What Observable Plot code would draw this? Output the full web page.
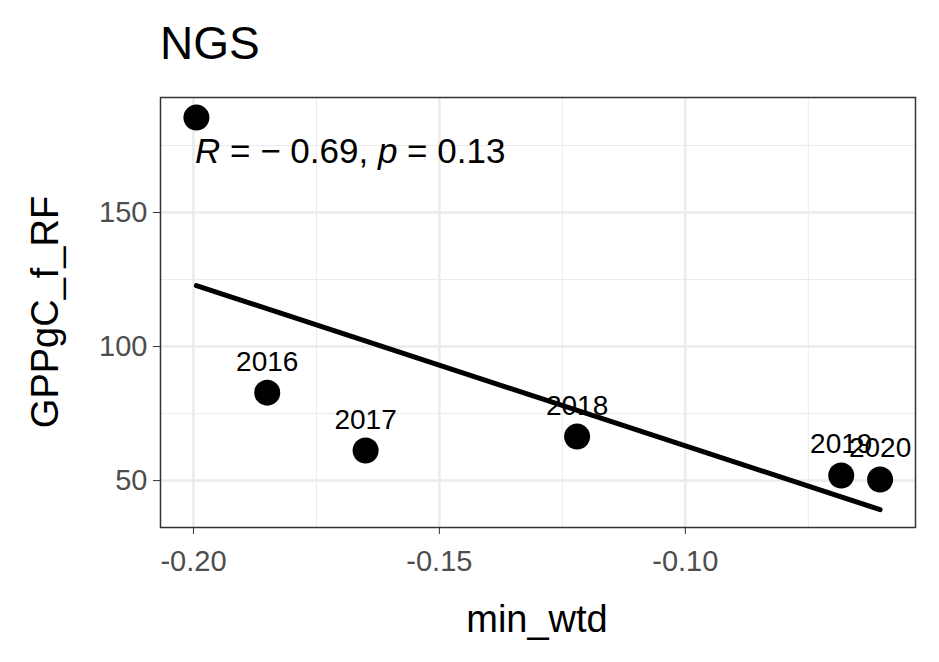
<!DOCTYPE html>
<html><head>
<script src="https://cdn.jsdelivr.net/npm/d3@7"></script>
<script src="https://cdn.jsdelivr.net/npm/@observablehq/plot@0.6"></script>
<style>body{margin:0;background:#fff;font-family:"Liberation Sans",Arial,sans-serif}
#wrap{position:relative;width:939px;height:662px}
#title{position:absolute;left:160px;top:16px;font-size:46px;color:#000}
</style></head><body>
<div id="wrap"><div id="title">NGS</div></div>
<script>
const years = ["", "2016", "2017", "2018", "2019", "2020"];
const minWtd = [-0.1994, -0.1850, -0.1650, -0.1220, -0.0683, -0.0604];
const gpp = [185.4, 82.8, 61.2, 66.4, 51.9, 50.4];
const xTicks = [-0.20, -0.15, -0.10];
const xMinor = [-0.175, -0.125, -0.075];
const yTicks = [50, 100, 150];
const yMinor = [75, 125, 175];
const data = years.map((y,i)=>({year:y,x:minWtd[i],y:gpp[i]}));
const chart = Plot.plot({
  width:939, height:662, marginLeft:160, marginRight:24, marginTop:97, marginBottom:135,
  style:{fontFamily:"Liberation Sans, Arial, sans-serif", background:"#fff"},
  x:{domain:[-0.2067,-0.0532], ticks:xTicks, label:null},
  y:{domain:[32.5,192.9], ticks:yTicks, label:null},
  marks:[
    Plot.ruleX(xMinor,{stroke:"#ebebeb",strokeWidth:1}),
    Plot.ruleY(yMinor,{stroke:"#ebebeb",strokeWidth:1}),
    Plot.ruleX(xTicks,{stroke:"#ebebeb",strokeWidth:2.5}),
    Plot.ruleY(yTicks,{stroke:"#ebebeb",strokeWidth:2.5}),
    Plot.linearRegressionY(data,{x:"x",y:"y",ci:0,stroke:"#000",strokeWidth:5}),
    Plot.dot(data,{x:"x",y:"y",r:13,fill:"#000"}),
    Plot.text(data,{x:"x",y:"y",text:"year",dy:-31,fontSize:28,fill:"#000"}),
    Plot.frame({stroke:"#333",strokeWidth:1.5}),
    Plot.axisX({ticks:xTicks,tickFormat:d=>d.toFixed(2),fontSize:29,tickSize:7,tickPadding:16,stroke:"#333",color:"#4d4d4d",label:null}),
    Plot.axisY({ticks:yTicks,fontSize:29,tickSize:7,tickPadding:6,stroke:"#333",color:"#4d4d4d",label:null})
  ]
});
const svg = d3.select(chart);
const t = svg.append("text").attr("x",195).attr("y",163).attr("font-size",35).attr("text-anchor","start").attr("fill","#000");
t.append("tspan").attr("font-style","italic").text("R");
t.append("tspan").text(" = \u2212 0.69, ");
t.append("tspan").attr("font-style","italic").text("p");
t.append("tspan").text(" = 0.13");
svg.append("text").attr("x",537).attr("y",632).attr("text-anchor","middle").attr("font-size",38).text("min_wtd");
svg.append("text").attr("transform","translate(58,312) rotate(-90)").attr("text-anchor","middle").attr("font-size",38).text("GPPgC_f_RF");
document.getElementById("wrap").appendChild(chart);
</script></body></html>
